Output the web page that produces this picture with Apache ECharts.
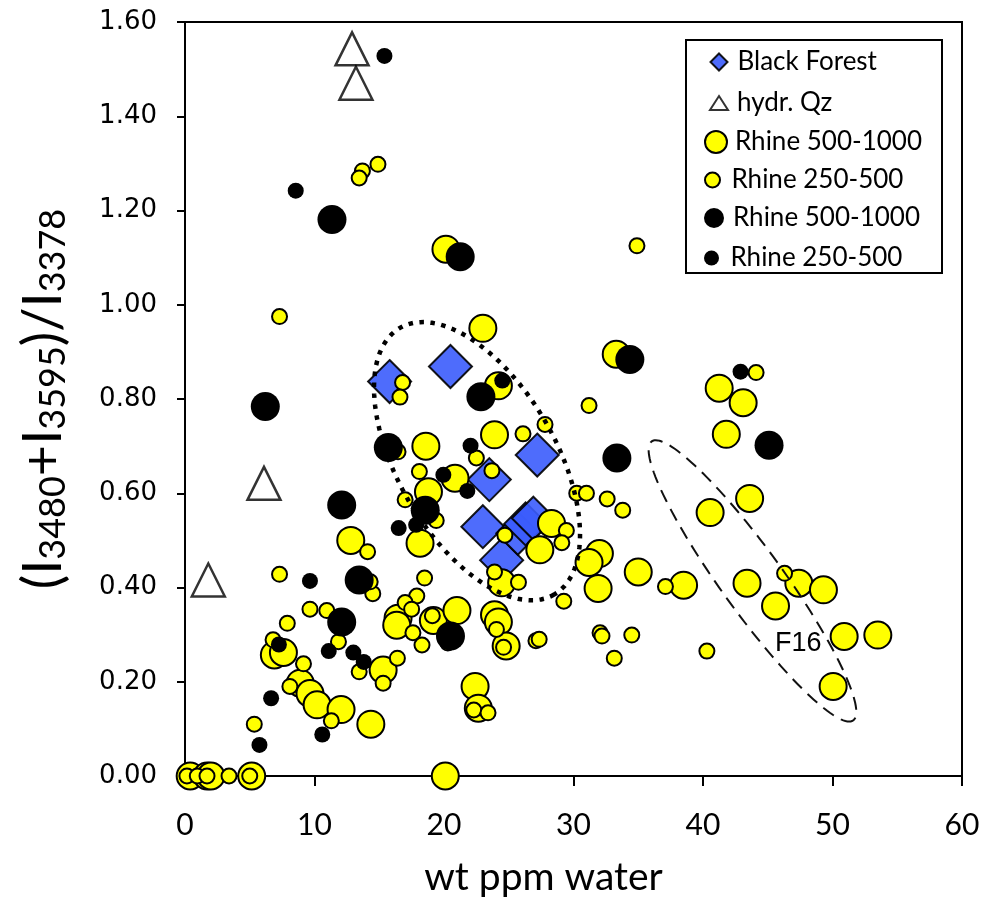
<!DOCTYPE html>
<html>
<head>
<meta charset="utf-8">
<script src="https://cdn.jsdelivr.net/npm/echarts@6/dist/echarts.min.js"></script>
<style>
  html, body { margin: 0; padding: 0; background: #fff; }
  #main { width: 984px; height: 907px; }
</style>
</head>
<body>
<div id="main"></div>
<script>
// values: [wt ppm water, (I3480+I3595)/I3378]
const blackForest = [
  [15.8, 0.837], [20.5, 0.869], [23.5, 0.629], [27.2, 0.681], [23.0, 0.529],
  [24.45, 0.458], [25.7, 0.515], [26.3, 0.535], [26.9, 0.547]
];
const hydrQz = [[12.9, 1.543], [13.2, 1.470], [6.1, 0.621], [1.8, 0.416]];

const yellowLarge = [
  [20.15, 1.118], [23.0, 0.950], [24.2, 0.828], [33.3, 0.895], [18.6, 0.700],
  [23.9, 0.724], [20.85, 0.632], [18.8, 0.603], [12.8, 0.500], [18.15, 0.494],
  [16.45, 0.335], [16.35, 0.320], [19.18, 0.330], [21.0, 0.351], [23.9, 0.342],
  [24.2, 0.327], [24.8, 0.276], [6.9, 0.257], [7.6, 0.262], [8.9, 0.197],
  [9.65, 0.175], [10.2, 0.151], [12.05, 0.141], [14.35, 0.110], [15.3, 0.225],
  [22.4, 0.190], [22.65, 0.144], [20.1, 0.0], [0.4, 0.0], [1.7, 0.0],
  [2.0, 0.0], [5.15, 0.0], [27.4, 0.480], [28.3, 0.536], [24.45, 0.410],
  [32.0, 0.472], [31.2, 0.453], [31.9, 0.398], [35.0, 0.433], [38.5, 0.405],
  [43.4, 0.409], [45.6, 0.361], [47.4, 0.409], [49.3, 0.395], [50.9, 0.296],
  [53.5, 0.299], [50.05, 0.190], [41.25, 0.823], [43.1, 0.792], [41.8, 0.725],
  [43.6, 0.589], [40.55, 0.559]
];
const yellowSmall = [
  [34.9, 1.125], [14.9, 1.298], [13.7, 1.284], [13.45, 1.269], [7.3, 0.975],
  [16.8, 0.835], [16.6, 0.804], [16.45, 0.688], [18.1, 0.646], [17.0, 0.586],
  [7.3, 0.428], [14.5, 0.387], [14.3, 0.412], [14.1, 0.476], [18.5, 0.420],
  [17.9, 0.382], [17.0, 0.368], [17.5, 0.354], [17.6, 0.304], [18.3, 0.278],
  [19.1, 0.340], [9.65, 0.354], [10.95, 0.351], [7.9, 0.324], [11.85, 0.285],
  [13.45, 0.221], [15.3, 0.197], [16.4, 0.250], [6.8, 0.289], [9.15, 0.238],
  [8.1, 0.190], [11.3, 0.117], [5.35, 0.110], [0.15, 0.0], [0.95, 0.0],
  [1.7, 0.0], [3.4, 0.0], [5.0, 0.0], [31.2, 0.786], [27.8, 0.746],
  [26.1, 0.726], [22.5, 0.675], [23.7, 0.648], [19.4, 0.542], [30.25, 0.600],
  [31.0, 0.600], [32.6, 0.588], [33.8, 0.564], [29.45, 0.521], [29.1, 0.495],
  [24.7, 0.511], [23.9, 0.433], [25.75, 0.411], [29.25, 0.371], [24.05, 0.311],
  [24.6, 0.273], [27.1, 0.287], [27.35, 0.290], [32.05, 0.304], [32.2, 0.297],
  [34.5, 0.299], [33.15, 0.250], [37.1, 0.402], [46.3, 0.430], [40.3, 0.265],
  [44.1, 0.856], [22.3, 0.140], [23.4, 0.134], [20.3, 0.282]
];
const blackLarge = [
  [11.35, 1.181], [21.25, 1.102], [22.85, 0.805], [34.35, 0.884], [6.2, 0.784],
  [15.7, 0.697], [33.35, 0.675], [45.1, 0.702], [12.1, 0.575], [18.55, 0.564],
  [13.45, 0.416], [12.1, 0.327], [20.5, 0.297]
];
const blackSmall = [
  [15.4, 1.528], [8.55, 1.242], [24.5, 0.839], [42.9, 0.858], [22.05, 0.701],
  [19.95, 0.639], [21.8, 0.605], [16.5, 0.526], [17.85, 0.533], [9.65, 0.414],
  [7.25, 0.279], [11.1, 0.265], [13.0, 0.262], [13.8, 0.242], [6.65, 0.165],
  [5.75, 0.066], [10.6, 0.088]
];

const xTicks = [0, 10, 20, 30, 40, 50, 60];
const yTicks = [0, 0.2, 0.4, 0.6, 0.8, 1.0, 1.2, 1.4, 1.6];

// ellipse annotations: centre, half major axis, half minor axis (data units)
const dottedEllipse = { c: [22.55, 0.668], u: [5.95, -0.283], v: [-5.28, -0.084] };
const dashedEllipse = { c: [43.82, 0.414], u: [7.78, -0.296], v: [-1.94, -0.0385] };

const chart = echarts.init(document.getElementById('main'));

const LAT = 'Lato, "Open Sans", sans-serif';

// one legend per entry so each icon can have its own size
function legendItem(name, top, w, h, iconLeft, pad) {
  return {
    data: [name],
    left: iconLeft,
    top: top,
    z: 20,
    itemWidth: w,
    itemHeight: h,
    selectedMode: false,
    padding: 0,
    formatter: function (n) { return n.replace(' (2)', ''); },
    textStyle: { fontFamily: LAT, fontSize: 26, color: '#000', lineHeight: 30, padding: [0, 0, 0, pad] }
  };
}

const option = {
  animation: false,
  backgroundColor: '#fff',
  grid: {
    left: 185, right: 22, top: 22, bottom: 131,
    show: true, borderColor: '#000', borderWidth: 2, backgroundColor: 'transparent'
  },
  legend: [
    legendItem('Black Forest', 47, 17, 17, 709.5, 5),
    legendItem('hydr. Qz', 88, 18, 14, 709, 4),
    legendItem('Rhine 500-1000', 127, 28, 22, 704, 0),
    legendItem('Rhine 250-500', 165, 28, 15, 704, 0),
    legendItem('Rhine 500-1000 (2)', 203, 28, 20, 704, 0),
    legendItem('Rhine 250-500 (2)', 243, 28, 15, 704, 0)
  ],
  xAxis: {
    type: 'value', min: 0, max: 60, interval: 10,
    name: 'wt ppm water', nameLocation: 'middle', nameGap: 82,
    nameTextStyle: { fontFamily: LAT, fontSize: 39, color: '#000', padding: [0, 60, 0, 0] },
    axisLine: { show: true, onZero: false, lineStyle: { color: '#000', width: 2 } },
    axisTick: { show: true, length: 10, lineStyle: { color: '#000', width: 2 } },
    axisLabel: { fontFamily: LAT, fontSize: 30, color: '#000', margin: 34,
      formatter: function (v) { return xTicks.indexOf(v) >= 0 ? String(v) : ''; } },
    splitLine: { show: false }
  },
  yAxis: {
    type: 'value', min: 0, max: 1.6, interval: 0.2,
    name: '{n|(I}{s|3480}{n|+I}{s|3595}{n|)/I}{s|3378}',
    nameLocation: 'middle', nameGap: 114, nameRotate: 90,
    nameTextStyle: {
      color: '#000',
      rich: {
        n: { fontFamily: LAT, fontSize: 54, color: '#000', verticalAlign: 'bottom', lineHeight: 60 },
        s: { fontFamily: LAT, fontSize: 36, color: '#000', verticalAlign: 'bottom', lineHeight: 52 }
      }
    },
    axisLine: { show: true, onZero: false, lineStyle: { color: '#000', width: 2 } },
    axisTick: { show: true, length: 8, lineStyle: { color: '#000', width: 2 } },
    axisLabel: { fontFamily: '"DejaVu Sans", sans-serif', fontSize: 26, color: '#000', margin: 28,
      formatter: function (v) {
        const hit = yTicks.find(function (t) { return Math.abs(t - v) < 1e-6; });
        return hit === undefined ? '' : hit.toFixed(2);
      } },
    splitLine: { show: false }
  },
  series: [
    {
      name: 'Black Forest', type: 'scatter', symbol: 'diamond', symbolSize: 43,
      data: blackForest, z: 2,
      itemStyle: { color: '#3b5cfc', opacity: 0.9, borderColor: '#000', borderWidth: 2 }
    },
    {
      name: 'hydr. Qz', type: 'scatter', symbol: 'triangle', symbolSize: [33, 33],
      data: hydrQz, z: 3,
      itemStyle: { color: '#fff', borderColor: '#000', borderWidth: 2.5 }
    },
    {
      name: 'Rhine 500-1000', type: 'scatter', symbol: 'circle', symbolSize: 27,
      data: yellowLarge, z: 4,
      itemStyle: { color: '#ffff00', borderColor: '#000', borderWidth: 2, opacity: 1 }
    },
    {
      name: 'Rhine 250-500', type: 'scatter', symbol: 'circle', symbolSize: 15,
      data: yellowSmall, z: 5,
      itemStyle: { color: '#ffff00', borderColor: '#000', borderWidth: 2, opacity: 1 }
    },
    {
      name: 'Rhine 500-1000 (2)', type: 'scatter', symbol: 'circle', symbolSize: 29,
      data: blackLarge, z: 6,
      itemStyle: { color: '#000', borderColor: '#000', borderWidth: 0, opacity: 1 }
    },
    {
      name: 'Rhine 250-500 (2)', type: 'scatter', symbol: 'circle', symbolSize: 16,
      data: blackSmall, z: 7,
      itemStyle: { color: '#000', borderColor: '#000', borderWidth: 0, opacity: 1 }
    }
  ]
};

chart.setOption(option);

// ellipse outlines and the F16 note, placed through the grid's own scale
function ellipsePoints(e) {
  const pts = [];
  for (let i = 0; i <= 144; i++) {
    const t = i / 144 * Math.PI * 2;
    const x = e.c[0] + e.u[0] * Math.cos(t) + e.v[0] * Math.sin(t);
    const y = e.c[1] + e.u[1] * Math.cos(t) + e.v[1] * Math.sin(t);
    pts.push(chart.convertToPixel({ gridIndex: 0 }, [x, y]));
  }
  return pts;
}
const f16 = chart.convertToPixel({ gridIndex: 0 }, [47.35, 0.282]);

chart.setOption({
  graphic: [
    {
      type: 'polyline', z: 10, silent: true,
      shape: { points: ellipsePoints(dottedEllipse) },
      style: { stroke: '#000', fill: null, lineWidth: 4.5, lineDash: [4.5, 6.5] }
    },
    {
      type: 'polyline', z: 10, silent: true,
      shape: { points: ellipsePoints(dashedEllipse) },
      style: { stroke: '#111', fill: null, lineWidth: 2, lineDash: [13, 8] }
    },
    {
      type: 'text', z: 11, silent: true, x: f16[0], y: f16[1],
      style: { text: 'F16', fill: '#000', font: '27px "Liberation Sans", Arial, sans-serif',
        align: 'center', verticalAlign: 'middle' }
    },
    {
      // legend frame
      type: 'rect', z: 1, silent: true,
      shape: { x: 686, y: 40, width: 256, height: 233 },
      style: { stroke: '#000', fill: null, lineWidth: 2 }
    }
  ]
});
</script>
</body>
</html>
